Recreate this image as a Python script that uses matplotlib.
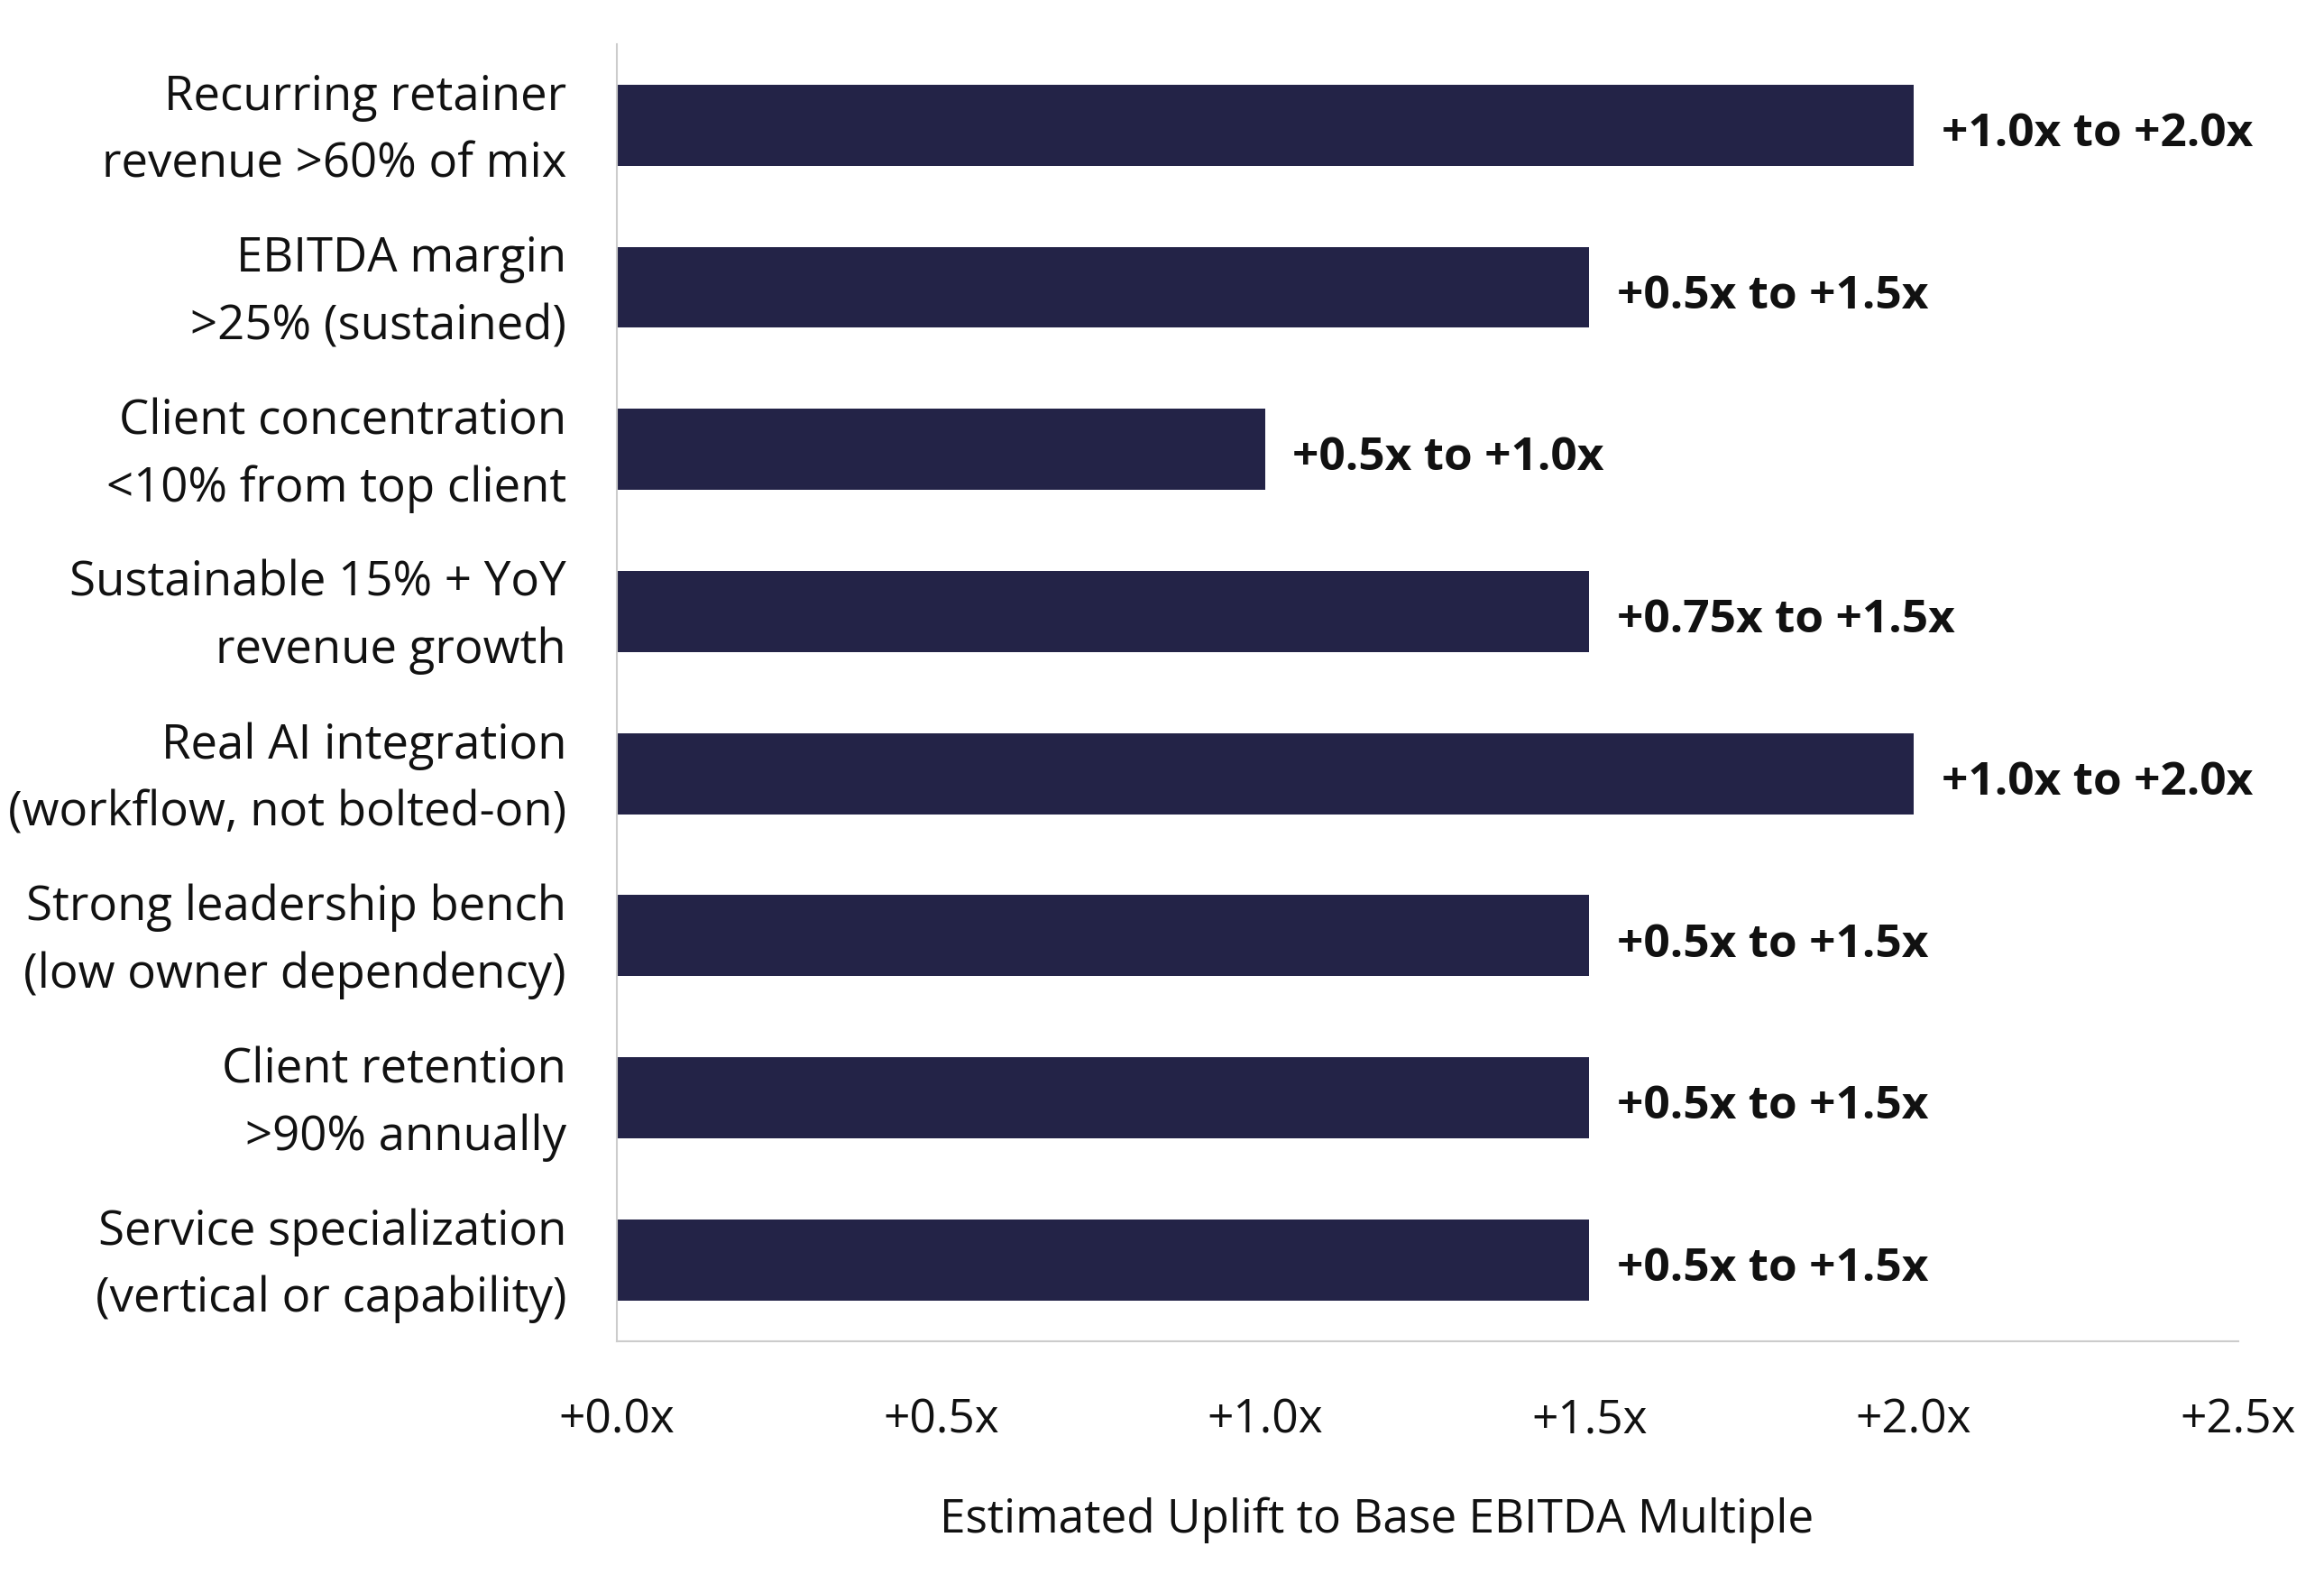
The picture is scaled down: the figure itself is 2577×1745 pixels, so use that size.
import matplotlib
matplotlib.use("Agg")
import matplotlib.pyplot as plt

categories = [
    "Recurring retainer\nrevenue >60% of mix",
    "EBITDA margin\n>25% (sustained)",
    "Client concentration\n<10% from top client",
    "Sustainable 15% + YoY\nrevenue growth",
    "Real AI integration\n(workflow, not bolted-on)",
    "Strong leadership bench\n(low owner dependency)",
    "Client retention\n>90% annually",
    "Service specialization\n(vertical or capability)",
]
uplift_high = [2.0, 1.5, 1.0, 1.5, 2.0, 1.5, 1.5, 1.5]
range_labels = [
    "+1.0x to +2.0x",
    "+0.5x to +1.5x",
    "+0.5x to +1.0x",
    "+0.75x to +1.5x",
    "+1.0x to +2.0x",
    "+0.5x to +1.5x",
    "+0.5x to +1.5x",
    "+0.5x to +1.5x",
]
xticks = [0.0, 0.5, 1.0, 1.5, 2.0, 2.5]
xtick_labels = ["+0.0x", "+0.5x", "+1.0x", "+1.5x", "+2.0x", "+2.5x"]
xlabel = "Estimated Uplift to Base EBITDA Multiple"

plt.rcParams['font.family'] = ['Open Sans', 'DejaVu Sans']

fig = plt.figure(figsize=(25.77, 17.45), dpi=100)
ax = fig.add_axes([0.2653, 0.148, 0.963 - 0.2653, 0.972 - 0.148])

ypos = list(range(len(categories)))
ax.barh(ypos, uplift_high, height=0.5, color="#232347")
for y, v, lab in zip(ypos, uplift_high, range_labels):
    ax.annotate(lab, xy=(v, y), xytext=(22, -3), textcoords="offset points",
                ha="left", va="center_baseline", fontsize=37, fontweight="bold", color="#111111")

ax.set_xlim(0, 2.5)
ax.set_ylim(len(categories) - 0.5, -0.5)
ax.set_yticks(ypos)
ax.set_yticklabels([])
for y, cat in zip(ypos, categories):
    ax.annotate(cat, xy=(0, y), xycoords=("axes fraction", "data"),
                xytext=(-40, -4.7), textcoords="offset points",
                ha="right", va="center", fontsize=38, color="#111111",
                linespacing=1.52, annotation_clip=False)
ax.set_xticks(xticks)
ax.set_xticklabels(xtick_labels, fontsize=37, color="#111111")
ax.tick_params(axis="both", length=0)
ax.tick_params(axis="x", pad=45)
ax.set_xlabel(xlabel, fontsize=37, color="#111111")
ax.xaxis.set_label_coords(0.469, -0.138)
ax.xaxis.label.set_va("center")

for s in ["top", "right"]:
    ax.spines[s].set_visible(False)
for s in ["left", "bottom"]:
    ax.spines[s].set_color("#cccccc")
    ax.spines[s].set_linewidth(1.5)

fig.savefig("out.png", dpi=100, facecolor="white")
